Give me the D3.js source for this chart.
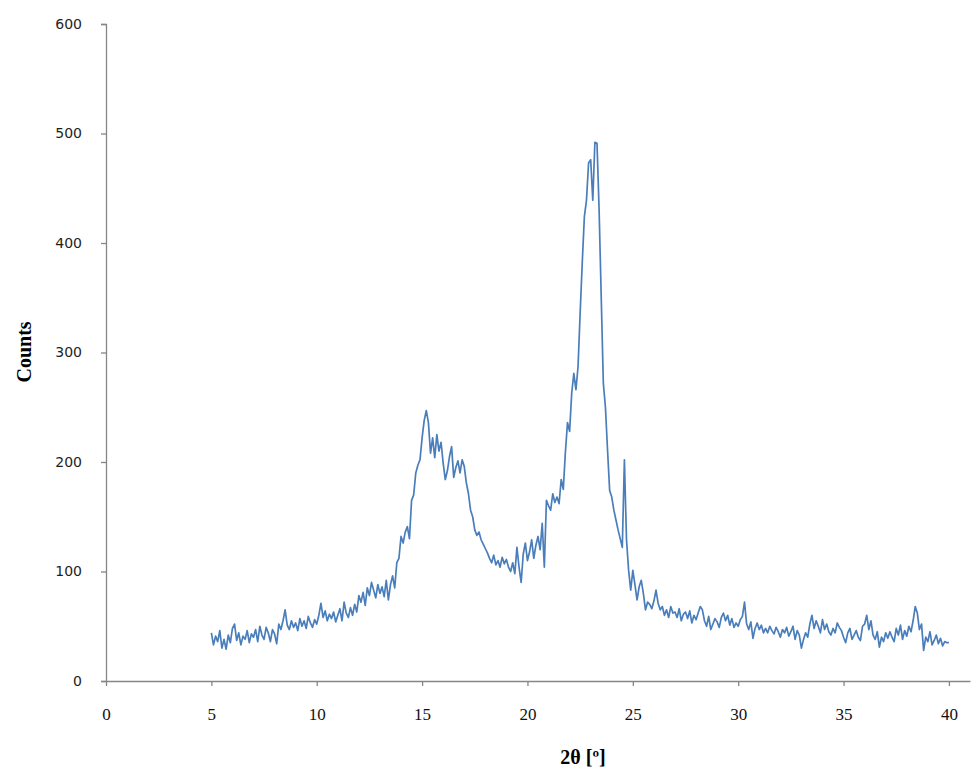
<!DOCTYPE html>
<html>
<head>
<meta charset="utf-8">
<script src="https://cdn.jsdelivr.net/npm/d3@7"></script>
<style>
  html, body { margin: 0; padding: 0; background: #fff; }
  svg { display: block; }
</style>
</head>
<body>
<svg id="chart" width="974" height="776"></svg>
<script>
// Diffraction scan: 2θ from 5° to 40° in 0.1° steps
const thetaStart = 5.0;
const thetaStep = 0.1;
const counts = [
  44, 33, 41, 36, 46, 30, 38, 29, 42, 35,
  48, 52, 37, 44, 33, 41, 38, 46, 35, 43,
  40, 47, 36, 50, 42, 38, 49, 44, 36, 47,
  43, 34, 52, 47, 55, 65, 51, 47, 55, 49,
  53, 46, 57, 50, 55, 48, 59, 53, 49, 56,
  52, 60, 71, 58, 64, 55, 61, 57, 63, 54,
  60, 66, 55, 72, 62, 58, 67, 60, 70, 63,
  78, 72, 81, 69, 85, 78, 90, 83, 76, 88,
  80, 86, 77, 92, 74, 88, 96, 85, 108, 112,
  132, 126, 136, 141, 130, 165, 170, 190, 197, 202,
  222, 238, 247, 236, 208, 222, 204, 225, 210, 218,
  199, 184, 192, 205, 214, 186, 195, 201, 190, 202,
  196, 181, 171, 156, 150, 138, 133, 136, 129, 125,
  121, 117, 112, 108, 115, 106, 110, 104, 113, 107,
  111, 104, 100, 108, 98, 122, 104, 90, 116, 126,
  110, 118, 129, 112, 124, 132, 120, 144, 104, 165,
  160, 156, 171, 163, 168, 162, 184, 175, 209, 236,
  228, 263, 281, 266, 287, 336, 382, 424, 439, 473,
  476, 439, 492, 491, 430, 351, 272, 250, 211, 174,
  168, 156, 147, 138, 130, 122, 202, 129, 101, 83,
  101, 88, 74, 86, 92, 80, 65, 72, 70, 66,
  73, 83, 71, 65, 68, 60, 65, 58, 68, 62,
  63, 58, 66, 55, 61, 63, 57, 64, 53, 60,
  56, 62, 68, 65, 55, 50, 59, 47, 52, 57,
  54, 49, 58, 62, 55, 60, 51, 57, 49, 53,
  50, 56, 59, 72, 52, 47, 54, 39, 48, 53,
  47, 51, 44, 48, 44, 50, 46, 43, 49, 45,
  40, 47, 44, 49, 41, 45, 50, 38, 46, 42,
  30, 38, 44, 40, 52, 60, 48, 55, 50, 44,
  56, 47, 52, 45, 42, 48, 44, 53, 49, 46,
  40, 35, 44, 48, 38, 42, 46, 40, 37, 50,
  52, 60, 47, 55, 42, 38, 45, 31, 40, 36,
  44, 39, 45, 40, 36, 48, 42, 51, 38, 46,
  41, 50, 45, 55, 68, 62, 47, 52, 28, 40,
  36, 45, 33, 37, 42, 34, 39, 32, 36, 35,
  35
];
const xTicks = [0, 5, 10, 15, 20, 25, 30, 35, 40];
const yTicks = [0, 100, 200, 300, 400, 500, 600];
const xTitle = "2θ [º]";
const yTitle = "Counts";

const svg = d3.select("#chart");
const axisColor = "#868686";

const x = d3.scaleLinear().domain([0, 41]).range([106, 970]);
const y = d3.scaleLinear().domain([0, 600]).range([681, 24]);

// Y axis
const yAxis = svg.append("g")
  .attr("transform", `translate(${x(0)},0)`)
  .call(d3.axisLeft(y).tickValues(yTicks).tickSize(5).tickPadding(19).tickFormat(d3.format("d")));
yAxis.select(".domain").attr("stroke", axisColor).attr("stroke-width", 1.3);
yAxis.selectAll(".tick line").attr("stroke", axisColor).attr("stroke-width", 1.3);
yAxis.selectAll(".tick text")
  .attr("fill", "#1e1e1e")
  .style("font-family", "'DejaVu Sans', Verdana, sans-serif")
  .style("font-size", "14px");

// X axis
const xAxis = svg.append("g")
  .attr("transform", `translate(0,${y(0)})`)
  .call(d3.axisBottom(x).tickValues(xTicks).tickSize(5).tickPadding(22).tickSizeOuter(0));
xAxis.select(".domain").attr("stroke", axisColor).attr("stroke-width", 1.3);
xAxis.selectAll(".tick line").attr("stroke", axisColor).attr("stroke-width", 1.3);
xAxis.selectAll(".tick text")
  .attr("fill", "#111")
  .style("font-family", "'Liberation Serif', 'Times New Roman', serif")
  .style("font-size", "17px");

// Axis titles
svg.append("text")
  .attr("x", 583).attr("y", 764)
  .attr("text-anchor", "middle")
  .style("font-family", "'Liberation Serif', 'Times New Roman', serif")
  .style("font-weight", "bold")
  .style("font-size", "20px")
  .attr("fill", "#000")
  .text(xTitle);

svg.append("text")
  .attr("transform", `translate(31,352) rotate(-90)`)
  .attr("text-anchor", "middle")
  .style("font-family", "'Liberation Serif', 'Times New Roman', serif")
  .style("font-weight", "bold")
  .style("font-size", "20px")
  .attr("fill", "#000")
  .text(yTitle);

// Scan trace
const points = counts.map((c, i) => ({ t: thetaStart + i * thetaStep, c }));
const line = d3.line().x(d => x(d.t)).y(d => y(d.c));
svg.append("path")
  .datum(points)
  .attr("fill", "none")
  .attr("stroke", "#4a7ebb")
  .attr("stroke-width", 1.7)
  .attr("stroke-linejoin", "round")
  .attr("d", line);
</script>
</body>
</html>
